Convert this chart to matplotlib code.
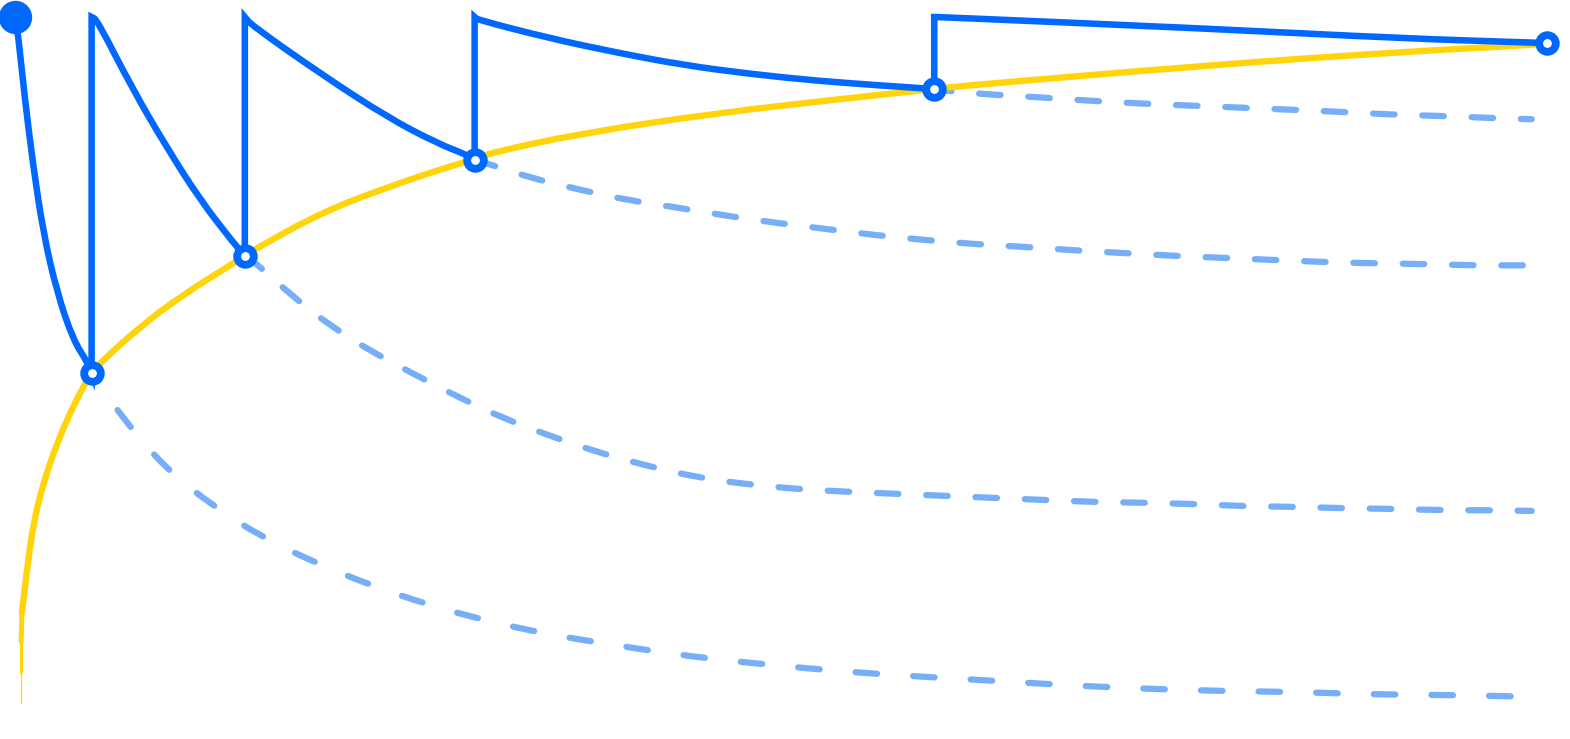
import matplotlib

matplotlib.use("Agg")
import matplotlib.pyplot as plt
import numpy as np
from matplotlib.collections import LineCollection
from matplotlib.patches import PathPatch
from matplotlib.path import Path

# Review days and the retention reached just before each review (%)
review_days = [0, 1, 3, 6, 12, 20]
review_retention = [100, 48.1, 65.2, 79.2, 89.5, 96.2]

# Solid blue: retention decay between reviews (day, %)
decay_1_t = [0, 0.04, 0.13, 0.24, 0.37, 0.55, 0.76, 0.95, 1.0]
decay_1_r = [100, 97.5, 87.9, 78.1, 68.5, 59.8, 52.9, 49.6, 48.1]
decay_2_t = [1.0, 1.07, 1.54, 1.98, 2.42, 2.85, 3.0]
decay_2_r = [100, 99.6, 89.4, 81.0, 73.3, 67.1, 65.2]
decay_3_t = [3.0, 3.09, 3.98, 4.86, 5.51, 5.90, 6.0]
decay_3_r = [100, 98.8, 91.8, 85.4, 81.6, 79.9, 79.2]
decay_4_t = [6.0, 6.04, 6.98, 7.86, 8.72, 9.6, 10.47, 11.33, 12.0]
decay_4_r = [100, 99.6, 96.9, 94.8, 93.0, 91.7, 90.7, 90.0, 89.5]
decay_5_t = [12.0, 12.05, 15.6, 18.08, 20.0]
decay_5_r = [100, 100, 98.3, 96.9, 96.2]

# Yellow: memory strength trend
strength_t = [0.08, 0.08, 0.08, 0.09, 0.16, 0.24, 0.37, 0.55, 0.72, 0.89, 1.0,
              1.15, 1.63, 2.15, 2.85, 3.0, 3.11, 3.98, 4.86, 5.72, 6.0, 6.2,
              7.42, 9.16, 10.9, 12.0, 12.2, 15.6, 18.08, 19.78, 20.0]
strength_r = [0, 4.5, 9.0, 13.1, 19.8, 26.2, 32.1, 37.9, 42.3, 46.1, 48.1,
              50.0, 54.8, 59.2, 64.1, 65.2, 66.0, 71.4, 75.2, 78.4, 79.2, 80.2,
              83.1, 86.0, 88.2, 89.5, 89.8, 93.0, 94.9, 95.9, 96.2]

# Dashed light blue: forgetting without further review
forget_1_t = [1.0, 1.44, 1.96, 2.56, 3.22, 3.93, 4.66, 5.40, 6.15, 6.92, 7.68,
              8.43, 9.19, 9.93, 10.69, 11.45, 12.21, 12.98, 13.73, 14.49,
              15.25, 16.02, 16.78, 17.53, 18.29, 19.05, 19.8]
forget_1_r = [48.1, 41.0, 34.3, 28.9, 24.2, 20.4, 17.1, 14.3, 12.0, 10.1, 8.7,
              7.4, 6.3, 5.5, 4.7, 4.1, 3.6, 3.1, 2.6, 2.2, 1.9, 1.7, 1.6, 1.3,
              1.2, 1.1, 0.9]
forget_2_t = [3.0, 3.2, 3.62, 4.14, 4.69, 5.25, 5.84, 6.42, 7.02, 7.65, 8.28,
              8.9, 9.54, 10.2, 10.84, 11.49, 12.14, 12.78, 13.43, 14.09, 14.74,
              15.39, 16.04, 16.68, 17.32, 17.98, 18.64, 19.29, 19.8]
forget_2_r = [65.2, 63.6, 59.3, 54.8, 51.0, 47.7, 44.3, 41.3, 38.8, 36.4, 34.5,
              32.9, 31.9, 31.2, 30.8, 30.5, 30.2, 29.9, 29.6, 29.3, 29.2, 29.0,
              28.7, 28.6, 28.4, 28.3, 28.1, 28.1, 28.0]
forget_3_t = [6.0, 6.23, 6.75, 7.38, 8.0, 8.66, 9.3, 9.93, 10.59, 11.23, 11.87,
              12.52, 13.17, 13.81, 14.46, 15.1, 15.76, 16.4, 17.05, 17.7,
              18.35, 19.0, 19.8]
forget_3_r = [79.2, 78.4, 76.5, 74.8, 73.3, 72.2, 71.0, 70.0, 69.1, 68.2, 67.5,
              66.9, 66.5, 66.0, 65.6, 65.2, 64.9, 64.6, 64.3, 64.1, 64.0, 63.8,
              63.8]
forget_4_t = [12.0, 12.19, 12.72, 13.37, 14.02, 14.67, 15.31, 15.97, 16.62,
              17.27, 17.91, 18.56, 19.22, 19.8]
forget_4_r = [89.5, 89.2, 88.7, 88.3, 87.8, 87.4, 87.1, 86.8, 86.5, 86.2, 85.8,
              85.6, 85.3, 85.1]

BLUE = "#0068FF"
LIGHT_BLUE = "#76AEF8"
YELLOW = "#FFD40A"


def smooth_codes(t, r, first=Path.MOVETO):
    """
    Quadratic bezier through the midpoints of the read points, so matplotlib
    draws a smooth curve instead of a polyline.
    """
    pts = list(zip(t, r))
    verts = [pts[0]]
    codes = [first]
    if len(pts) > 2:
        verts.append(((pts[0][0] + pts[1][0]) / 2, (pts[0][1] + pts[1][1]) / 2))
        codes.append(Path.LINETO)
        for i in range(1, len(pts) - 1):
            mid = ((pts[i][0] + pts[i + 1][0]) / 2, (pts[i][1] + pts[i + 1][1]) / 2)
            verts += [pts[i], mid]
            codes += [Path.CURVE3, Path.CURVE3]
    verts.append(pts[-1])
    codes.append(Path.LINETO)
    return verts, codes


def plot_review_curve() -> None:
    plt.rcParams["lines.scale_dashes"] = False

    fig = plt.figure(figsize=(15.7, 7.39), dpi=100)
    ax = fig.add_axes([0, 0, 1, 1])
    ax.set_xlim(-0.196, 20.3)
    ax.set_ylim(-5.25, 102.48)
    ax.axis("off")

    # forgetting curves if there were no more reviews
    forget = [
        (forget_1_t, forget_1_r, 9.0, 26.0),
        (forget_2_t, forget_2_r, 0.0, 20.0),
        (forget_3_t, forget_3_r, 0.0, 20.0),
        (forget_4_t, forget_4_r, 3.0, 20.0),
    ]
    for t, r, offset, gap in forget:
        verts, codes = smooth_codes(t, r)
        patch = PathPatch(Path(verts, codes), fill=False, edgecolor=LIGHT_BLUE,
                          lw=4.5, linestyle=(offset, (15.5, gap)),
                          capstyle="round", zorder=1)
        ax.add_patch(patch)

    # memory strength, tapering at its start
    pts = np.column_stack([strength_t[:4], strength_r[:4]])
    segments = np.stack([pts[:-1], pts[1:]], axis=1)
    ax.add_collection(LineCollection(segments, colors=YELLOW,
                                     linewidths=[0.9, 2.2, 3.6],
                                     capstyle="round", zorder=2))
    verts, codes = smooth_codes(strength_t[3:], strength_r[3:])
    ax.add_patch(PathPatch(Path(verts, codes), fill=False, edgecolor=YELLOW,
                           lw=4.6, capstyle="round", zorder=2))

    # retention with reviews (sawtooth)
    verts, codes = [], []
    teeth = [(decay_1_t, decay_1_r), (decay_2_t, decay_2_r),
             (decay_3_t, decay_3_r), (decay_4_t, decay_4_r),
             (decay_5_t, decay_5_r)]
    for k, (t, r) in enumerate(teeth):
        v, c = smooth_codes(t, r, Path.MOVETO if k == 0 else Path.LINETO)
        verts += v
        codes += c
    ax.add_patch(PathPatch(Path(verts, codes), fill=False, edgecolor=BLUE,
                           lw=4.7, joinstyle="miter", capstyle="round",
                           zorder=3))

    # first learning + review points
    ax.plot(review_days[:1], review_retention[:1], "o", color=BLUE, ms=24,
            mew=0, zorder=4, clip_on=False)
    ax.plot(review_days[1:], review_retention[1:], "o", mfc="white", mec=BLUE,
            ms=12, mew=5.6, zorder=4, clip_on=False)

    fig.savefig("out.png", dpi=100, facecolor="white")


def main() -> None:
    plot_review_curve()


if __name__ == "__main__":
    main()
